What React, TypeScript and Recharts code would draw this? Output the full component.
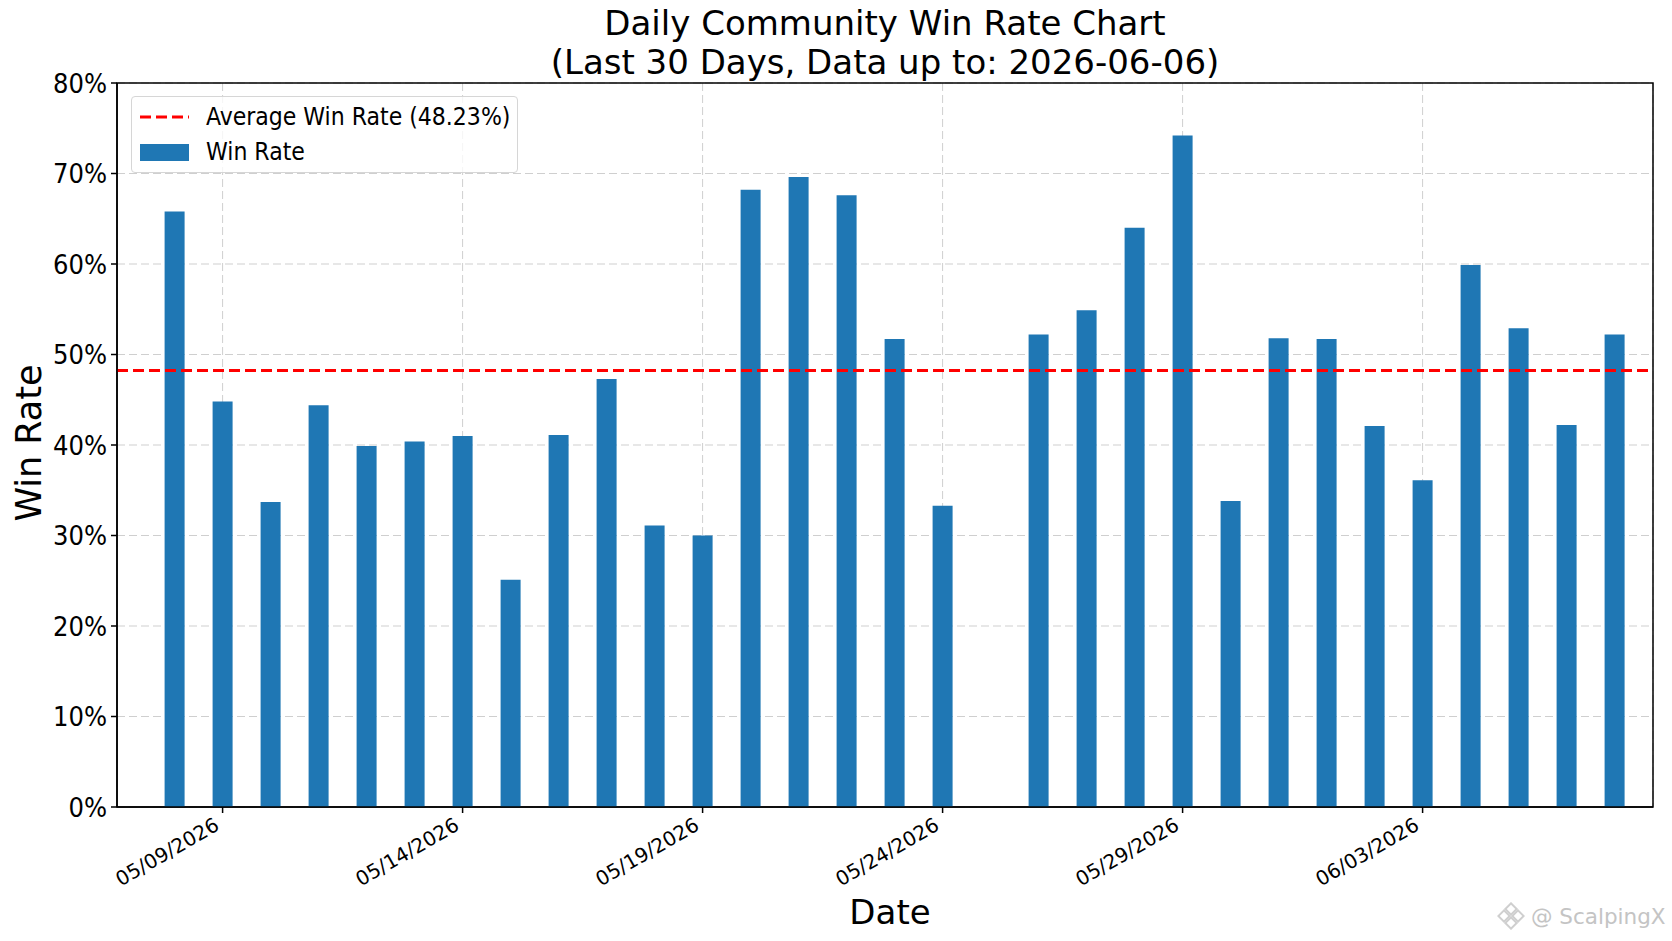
import {
  ComposedChart,
  Bar,
  XAxis,
  YAxis,
  CartesianGrid,
  ReferenceLine,
  ReferenceArea,
  Legend,
} from "recharts";

const dates = [
  "05/08/2026", "05/09/2026", "05/10/2026", "05/11/2026", "05/12/2026",
  "05/13/2026", "05/14/2026", "05/15/2026", "05/16/2026", "05/17/2026",
  "05/18/2026", "05/19/2026", "05/20/2026", "05/21/2026", "05/22/2026",
  "05/23/2026", "05/24/2026", "05/25/2026", "05/26/2026", "05/27/2026",
  "05/28/2026", "05/29/2026", "05/30/2026", "05/31/2026", "06/01/2026",
  "06/02/2026", "06/03/2026", "06/04/2026", "06/05/2026", "06/06/2026",
  "06/07/2026",
];

// win rate in %, null = no trades that day
const winRates = [
  65.8, 44.8, 33.7, 44.4, 39.9, 40.4, 41.0, 25.1, 41.1, 47.3,
  31.1, 30.0, 68.2, 69.6, 67.6, 51.7, 33.3, null, 52.2, 54.9,
  64.0, 74.2, 33.8, 51.8, 51.7, 42.1, 36.1, 59.9, 52.9, 42.2,
  52.2,
];

const tickDates = [
  "05/09/2026", "05/14/2026", "05/19/2026", "05/24/2026", "05/29/2026", "06/03/2026",
];
const yTicks = [0, 10, 20, 30, 40, 50, 60, 70, 80];
const AVERAGE = 48.23;

const data = dates.map((date, i) => ({ x: i, date, rate: winRates[i] }));
const xTicks = tickDates.map((d) => dates.indexOf(d));
const X_DOMAIN: [number, number] = [-1.2, 30.8];
const Y_DOMAIN: [number, number] = [0, 80];

const FONT = "'DejaVu Sans', sans-serif";
const COND = "'DejaVu Sans Condensed', 'DejaVu Sans', sans-serif";

function XTick({ x, y, payload }: any) {
  const ax = x - 2;
  const ay = y + 14;
  return (
    <text
      x={ax}
      y={ay}
      textAnchor="end"
      transform={`rotate(-30, ${ax}, ${ay})`}
      fontSize={20}
      fontFamily={FONT}
      fill="#000"
    >
      {dates[payload.value]}
    </text>
  );
}

function LegendBox() {
  return (
    <div
      style={{
        width: 385,
        height: 75,
        border: "1px solid #d6d6d6",
        borderRadius: 4,
        background: "rgba(255,255,255,0.8)",
        fontFamily: COND,
        fontSize: 24.5,
        color: "#000",
        position: "relative",
      }}
    >
      <svg width={60} height={75} style={{ position: "absolute", left: 0, top: 0 }}>
        <line x1={8} x2={57} y1={20} y2={20} stroke="#ff0000" strokeWidth={3} strokeDasharray="11 5" />
        <rect x={8} y={47} width={49} height={17} fill="#1f77b4" />
      </svg>
      <div style={{ position: "absolute", left: 74, top: 4, lineHeight: "32px", whiteSpace: "nowrap" }}>
        Average Win Rate ({AVERAGE}%)
      </div>
      <div style={{ position: "absolute", left: 74, top: 39, lineHeight: "32px", whiteSpace: "nowrap" }}>
        Win Rate
      </div>
    </div>
  );
}

export default function App() {
  return (
    <div
      style={{
        position: "absolute",
        left: 0,
        top: 0,
        width: 1672,
        height: 941,
        background: "#fff",
        fontFamily: FONT,
        color: "#000",
      }}
    >
      <div
        style={{
          position: "absolute",
          left: 117,
          width: 1536,
          top: 4,
          textAlign: "center",
          fontSize: 34,
          lineHeight: "39px",
        }}
      >
        Daily Community Win Rate Chart
        <br />
        (Last 30 Days, Data up to: 2026-06-06)
      </div>

      <ComposedChart
        width={1672}
        height={941}
        data={data}
        margin={{ top: 83, right: 19, bottom: 54, left: 37 }}
      >
        <CartesianGrid stroke="#cfcfcf" strokeDasharray="8 4" strokeWidth={1} />
        <XAxis
          dataKey="x"
          type="number"
          domain={X_DOMAIN}
          ticks={xTicks}
          interval={0}
          height={80}
          allowDataOverflow
          tick={<XTick />}
          tickSize={6}
          tickLine={{ stroke: "#000", strokeWidth: 1.5 }}
          axisLine={{ stroke: "#000", strokeWidth: 1.5 }}
        />
        <YAxis
          domain={Y_DOMAIN}
          ticks={yTicks}
          interval={0}
          width={80}
          tickFormatter={(v) => `${v}%`}
          tickSize={6}
          tickMargin={4}
          tick={{ fontSize: 27, fontFamily: COND, fill: "#000" }}
          tickLine={{ stroke: "#000", strokeWidth: 1.5 }}
          axisLine={{ stroke: "#000", strokeWidth: 1.5 }}
        />
        <Bar dataKey="rate" fill="#1f77b4" barSize={20} isAnimationActive={false} />
        <ReferenceLine
          y={AVERAGE}
          stroke="#ff0000"
          strokeWidth={2.8}
          strokeDasharray="11 5"
        />
        {/* axes frame (matplotlib spines) */}
        <ReferenceArea
          x1={X_DOMAIN[0]}
          x2={X_DOMAIN[1]}
          y1={Y_DOMAIN[0]}
          y2={Y_DOMAIN[1]}
          fill="none"
          fillOpacity={0}
          stroke="#000"
          strokeWidth={1.5}
          ifOverflow="visible"
        />
        <Legend
          layout="vertical"
          align="center"
          verticalAlign="middle"
          content={() => <LegendBox />}
          wrapperStyle={{ left: 131, top: 96, width: 387, height: 77 }}
        />
      </ComposedChart>

      <div
        style={{
          position: "absolute",
          left: 29,
          top: 443,
          transform: "translate(-50%, -50%) rotate(-90deg)",
          fontSize: 35,
          whiteSpace: "nowrap",
          lineHeight: "40px",
        }}
      >
        Win Rate
      </div>
      <div
        style={{
          position: "absolute",
          left: 890,
          top: 912,
          transform: "translate(-50%, -50%)",
          fontSize: 34,
          whiteSpace: "nowrap",
          lineHeight: "40px",
        }}
      >
        Date
      </div>

      <div
        style={{
          position: "absolute",
          left: 1497,
          top: 902,
          display: "flex",
          alignItems: "center",
          gap: 6,
          color: "#c4c4c4",
          fontSize: 21.5,
          whiteSpace: "nowrap",
        }}
      >
        <svg width={28} height={28} viewBox="0 0 28 28">
          <g fill="none" stroke="#cfcfcf" strokeWidth={2}>
            <rect x={10} y={3} width={8} height={8} transform="rotate(45 14 7)" />
            <rect x={3} y={10} width={8} height={8} transform="rotate(45 7 14)" />
            <rect x={17} y={10} width={8} height={8} transform="rotate(45 21 14)" />
            <rect x={10} y={17} width={8} height={8} transform="rotate(45 14 21)" />
          </g>
        </svg>
        <span>@ ScalpingX</span>
      </div>
    </div>
  );
}
